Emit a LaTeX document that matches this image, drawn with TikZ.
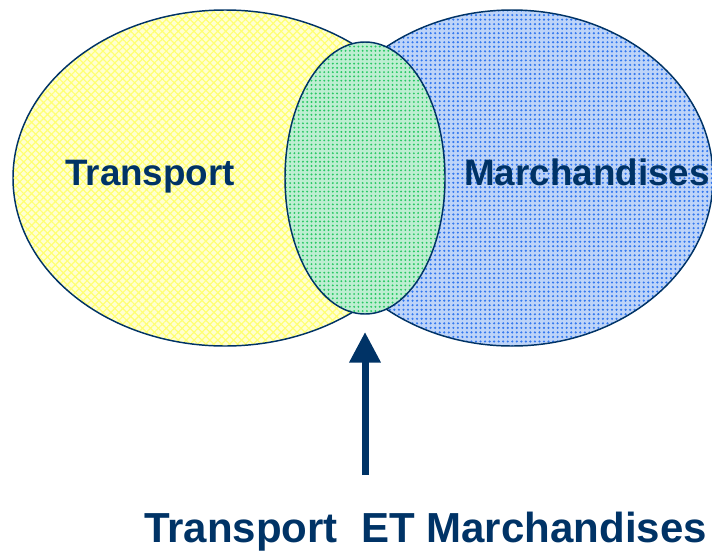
\documentclass[tikz,border=0pt]{standalone}
\usepackage{fontspec}
\setmainfont{Liberation Sans}
\usetikzlibrary{patterns.meta,arrows.meta}
\definecolor{navy}{RGB}{0,51,102}
\definecolor{ybase}{RGB}{255,255,210}
\definecolor{yline}{RGB}{255,255,115}
\definecolor{bbase}{RGB}{190,212,248}
\definecolor{bdot}{RGB}{50,120,240}
\definecolor{gbase}{RGB}{190,238,210}
\definecolor{gdot}{RGB}{40,200,100}
\tikzset{
  setline/.style={draw=navy, line width=1.1pt},
  lbl/.style={font=\bfseries\fontsize{27.6pt}{30pt}\selectfont, text=navy, inner sep=0pt, anchor=base west},
  biglbl/.style={font=\bfseries\fontsize{31.5pt}{34pt}\selectfont, text=navy, inner sep=0pt, anchor=base west},
  uparrow/.style={draw=navy, line width=5.25pt, -{Triangle[length=23pt,width=22.5pt]}}
}
\begin{document}
\begin{tikzpicture}[x=0.75pt,y=-0.75pt]
\useasboundingbox (0,0) rectangle (712,550);
% left set
\fill[ybase] (225,178) ellipse (212 and 168);
\fill[pattern={Hatch[angle=45,distance=4.2pt,line width=0.9pt]}, pattern color=yline] (225,178) ellipse (212 and 168);
\draw[setline] (225,178) ellipse (212 and 168);
% right set
\fill[bbase] (512,178) ellipse (201 and 168);
\fill[pattern={Dots[distance=3.4pt,radius=0.9pt]}, pattern color=bdot] (512,178) ellipse (201 and 168);
\draw[setline] (512,178) ellipse (201 and 168);
% intersection
\fill[gbase] (365,178) ellipse (80 and 136);
\fill[pattern={Dots[distance=3.2pt,radius=0.8pt]}, pattern color=gdot] (365,178) ellipse (80 and 136);
\draw[setline] (365,178) ellipse (80 and 136);
% labels
\node[lbl] (t) at (65,185) {Transport};
\node[lbl] (m) at (464,185) {Marchandises};
\node[biglbl] (tm) at (144,542) {Transport\ \ ET Marchandises};
% arrow
\coordinate (tail) at (365,475);
\coordinate (tip) at (365,332);
\draw[uparrow] (tail) -- (tip);
\end{tikzpicture}
\end{document}
